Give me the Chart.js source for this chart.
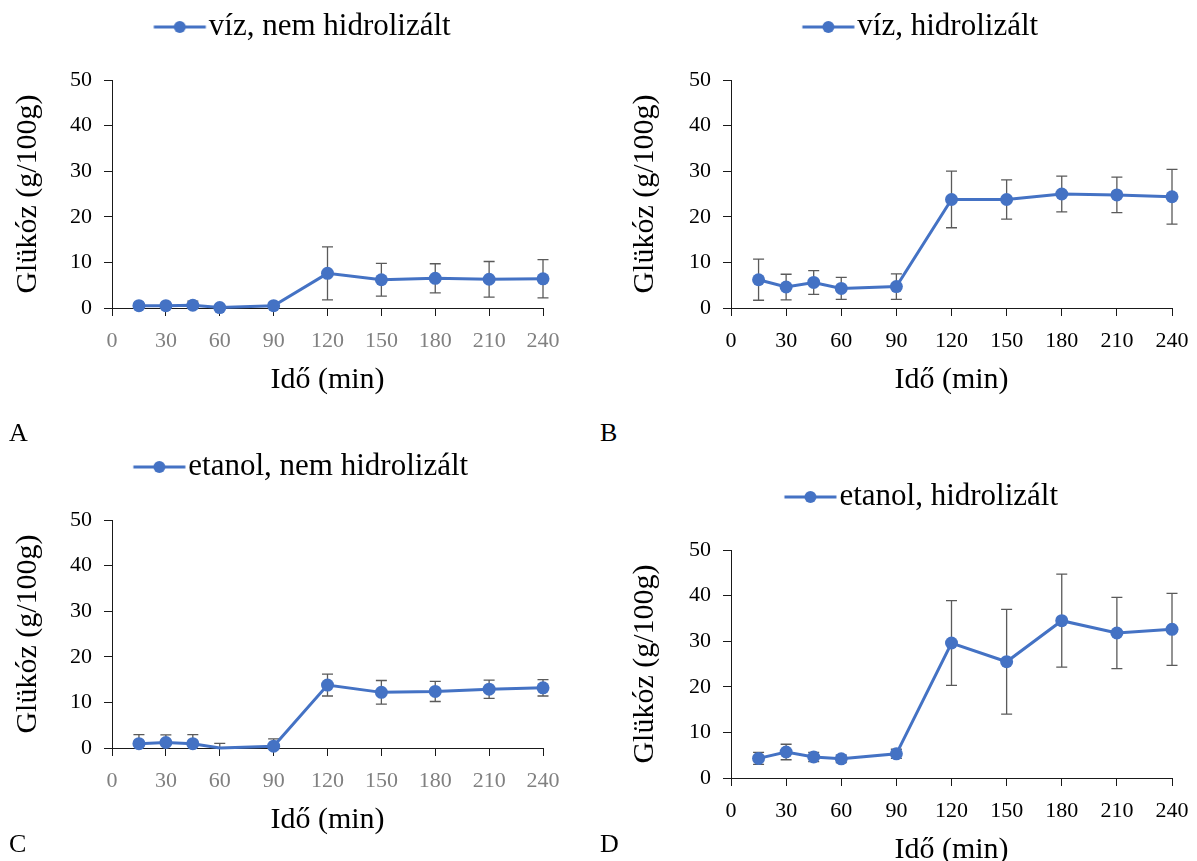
<!DOCTYPE html>
<html lang="hu">
<head>
<meta charset="utf-8">
<script src="https://cdn.jsdelivr.net/npm/chart.js@4.4.1/dist/chart.umd.min.js"></script>
<style>
  html, body { margin: 0; padding: 0; background: #fff; width: 1197px; height: 861px; overflow: hidden; }
  canvas { position: absolute; }
  .tag { position: absolute; font: 26px "Liberation Serif", "Times New Roman", serif; line-height: 1; color: #000; }
</style>
</head>
<body>
<canvas id="chartA" width="598" height="405" style="left:0;top:0"></canvas>
<canvas id="chartB" width="603" height="405" style="left:598px;top:0"></canvas>
<canvas id="chartC" width="598" height="405" style="left:0;top:440px"></canvas>
<canvas id="chartD" width="603" height="405" style="left:598px;top:470px"></canvas>
<div class="tag" style="left:9px;top:420px">A</div>
<div class="tag" style="left:600px;top:420px">B</div>
<div class="tag" style="left:9px;top:831px">C</div>
<div class="tag" style="left:600px;top:831px">D</div>

<script>
// sampling times (min) and axis ticks
const times = [15, 30, 45, 60, 90, 120, 150, 180, 210, 240];
const xTickValues = [0, 30, 60, 90, 120, 150, 180, 210, 240];
const yTickValues = [0, 10, 20, 30, 40, 50];

// glucose (g/100g) and error bars
const vizNem = [0.5, 0.5, 0.6, 0.1, 0.5, 7.6, 6.2, 6.5, 6.3, 6.4];
const vizNemErr = [0.4, 0.4, 0.9, 0.3, 0.4, 5.8, 3.6, 3.2, 3.9, 4.2];
const vizHidr = [6.2, 4.6, 5.6, 4.3, 4.7, 23.8, 23.8, 25.0, 24.8, 24.4];
const vizHidrErr = [4.5, 2.8, 2.6, 2.4, 2.8, 6.2, 4.3, 3.9, 3.9, 6.0];
const etanolNem = [0.95, 1.2, 0.95, 0, 0.4, 13.8, 12.2, 12.4, 12.9, 13.2];
const etanolNemErr = [2.0, 1.7, 2.0, 1.0, 1.6, 2.4, 2.6, 2.2, 2.0, 1.8];
const etanolHidr = [4.3, 5.7, 4.6, 4.2, 5.3, 29.6, 25.5, 34.5, 31.8, 32.6];
const etanolHidrErr = [1.3, 1.7, 1.0, 0.8, 1.0, 9.3, 11.5, 10.2, 7.8, 7.9];

const serif = '"Liberation Serif", "Times New Roman", serif';
const blue = '#4472C4';
Chart.defaults.font.family = serif;
Chart.defaults.color = '#000';

// legend symbol: line with a dot, like the original
const legendIcon = document.createElement('canvas');
legendIcon.width = 70;
legendIcon.height = 16;
(function () {
  const c = legendIcon.getContext('2d');
  c.strokeStyle = blue;
  c.lineWidth = 3;
  c.beginPath();
  c.moveTo(15.5, 8);
  c.lineTo(67.5, 8);
  c.stroke();
  c.fillStyle = blue;
  c.beginPath();
  c.arc(41.5, 8, 6, 0, Math.PI * 2);
  c.fill();
})();

const errorBars = {
  id: 'errorBars',
  beforeDatasetsDraw(chart, args, opts) {
    const { ctx, chartArea, scales: { x, y } } = chart;
    const errs = opts.errors || [];
    ctx.save();
    ctx.strokeStyle = '#5a5a5a';
    ctx.lineWidth = 1.3;
    chart.data.datasets[0].data.forEach((p, i) => {
      const e = errs[i];
      if (!e) return;
      const px = x.getPixelForValue(p.x);
      const top = y.getPixelForValue(p.y + e);
      const bot = Math.min(y.getPixelForValue(p.y - e), chartArea.bottom);
      ctx.beginPath();
      ctx.moveTo(px, top);
      ctx.lineTo(px, bot);
      ctx.moveTo(px - 5.5, top);
      ctx.lineTo(px + 5.5, top);
      if (bot < chartArea.bottom) {
        ctx.moveTo(px - 5.5, bot);
        ctx.lineTo(px + 5.5, bot);
      }
      ctx.stroke();
    });
    ctx.restore();
  }
};

function makePanel(id, label, values, errs, lay) {
  const points = times.map((t, i) => ({ x: t, y: values[i] }));
  return new Chart(document.getElementById(id), {
    type: 'line',
    data: {
      datasets: [{
        label: label,
        data: points,
        borderColor: blue,
        backgroundColor: blue,
        borderWidth: 3,
        pointRadius: lay.radii || 6.5,
        pointHoverRadius: 6.5,
        pointBackgroundColor: blue,
        pointBorderWidth: 0,
        tension: 0,
        clip: false
      }]
    },
    options: {
      responsive: false,
      animation: false,
      events: [],
      layout: { padding: { top: 2, left: lay.padLeft, right: lay.padRight, bottom: 0 } },
      plugins: {
        legend: {
          display: true,
          position: 'top',
          labels: {
            usePointStyle: true,
            pointStyle: legendIcon,
            pointStyleWidth: 40,
            padding: 9.5,
            color: '#000',
            font: { family: serif, size: 31 }
          }
        },
        // empty title used as spacer between legend and plot
        title: {
          display: true,
          text: '',
          weight: 500,
          font: { size: 20, lineHeight: 1 },
          padding: { top: 4, bottom: 3.5 }
        },
        tooltip: { enabled: false },
        errorBars: { errors: errs }
      },
      scales: {
        x: {
          type: 'linear',
          min: 0,
          max: 240,
          afterBuildTicks: s => { s.ticks = xTickValues.map(v => ({ value: v })); },
          afterFit: s => { s.height = 97; },
          border: { color: '#1a1a1a', width: 1 },
          grid: { drawOnChartArea: false, drawTicks: true, tickLength: 8, color: '#1a1a1a' },
          ticks: { color: lay.xTickColor, font: { family: serif, size: 22 }, padding: 12, maxRotation: 0 },
          title: {
            display: true,
            text: 'Idő (min)',
            color: '#000',
            font: { family: serif, size: 30, lineHeight: 1.2 },
            padding: { top: 0, bottom: 7 }
          }
        },
        y: {
          min: 0,
          max: 50,
          afterBuildTicks: s => { s.ticks = yTickValues.map(v => ({ value: v })); },
          afterFit: s => { s.width = lay.yWidth; },
          border: { color: '#1a1a1a', width: 1 },
          grid: { drawOnChartArea: false, drawTicks: true, tickLength: 8, color: '#1a1a1a' },
          ticks: { color: '#000', font: { family: serif, size: 22 }, padding: 12 },
          title: {
            display: true,
            text: 'Glükóz (g/100g)',
            color: '#000',
            font: { family: serif, size: 30, lineHeight: 1.2 },
            padding: { top: lay.titleShift, bottom: 0 }
          }
        }
      }
    },
    plugins: [errorBars]
  });
}

makePanel('chartA', 'víz, nem hidrolizált', vizNem, vizNemErr,
  { padLeft: 61, padRight: 55, yWidth: 51, titleShift: -51, xTickColor: '#808080' });
makePanel('chartB', 'víz, hidrolizált', vizHidr, vizHidrErr,
  { padLeft: 70, padRight: 29, yWidth: 63, titleShift: -41, xTickColor: '#000' });
makePanel('chartC', 'etanol, nem hidrolizált', etanolNem, etanolNemErr,
  { padLeft: 58, padRight: 55, yWidth: 54, titleShift: -48, xTickColor: '#808080',
    radii: [6.5, 6.5, 6.5, 0, 6.5, 6.5, 6.5, 6.5, 6.5, 6.5] });
makePanel('chartD', 'etanol, hidrolizált', etanolHidr, etanolHidrErr,
  { padLeft: 72, padRight: 29, yWidth: 61, titleShift: -43, xTickColor: '#000' });
</script>
</body>
</html>
